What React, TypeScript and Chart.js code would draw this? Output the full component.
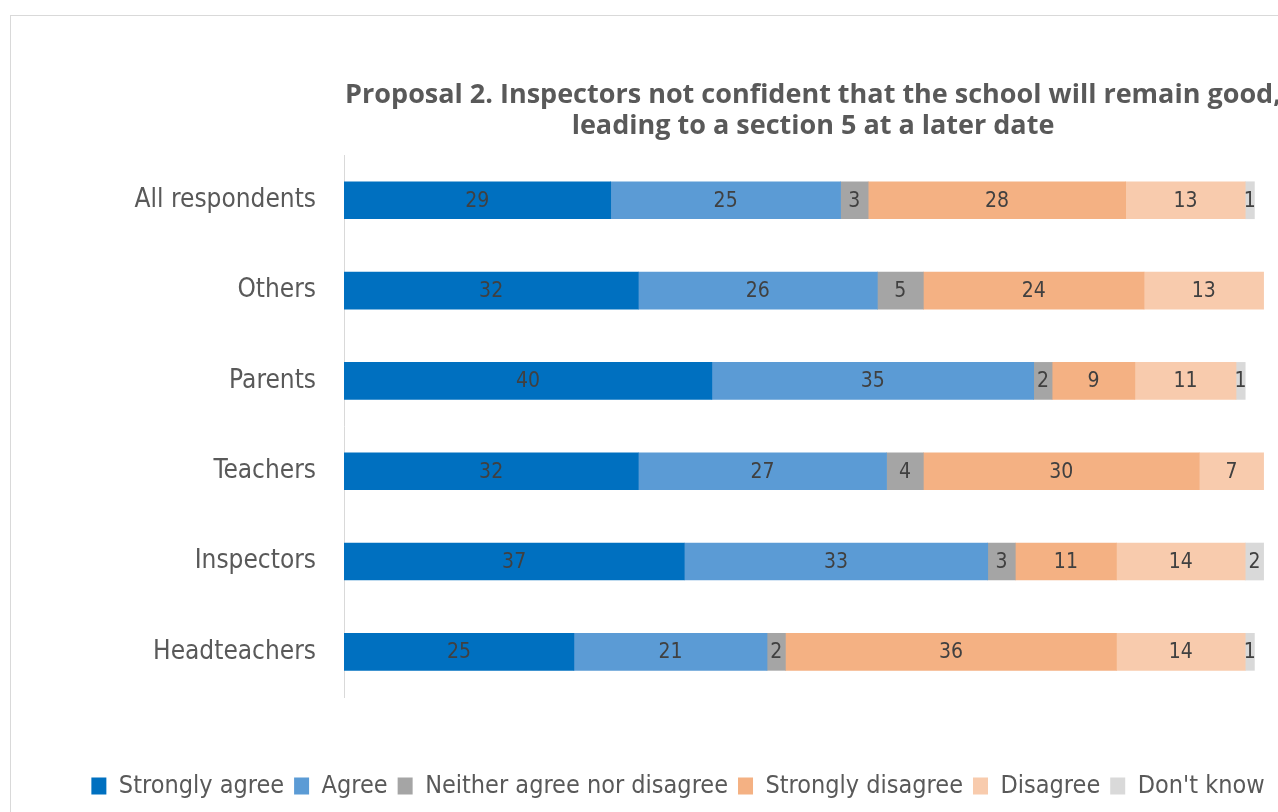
import React, { useEffect, useRef } from "react";
import { Chart, registerables } from "chart.js";

Chart.register(...registerables);

const categories = ["All respondents", "Others", "Parents", "Teachers", "Inspectors", "Headteachers"];
const stronglyAgree = [29, 32, 40, 32, 37, 25];
const agree = [25, 26, 35, 27, 33, 21];
const neither = [3, 5, 2, 4, 3, 2];
const stronglyDisagree = [28, 24, 9, 30, 11, 36];
const disagree = [13, 13, 11, 7, 14, 14];
const dontKnow = [1, null, 1, null, 2, 1];

const seriesNames = ["Strongly agree", "Agree", "Neither agree nor disagree", "Strongly disagree", "Disagree", "Don't know"];
const seriesColors = ["#0070C0", "#5B9BD5", "#A5A5A5", "#F4B183", "#F8CBAD", "#D9D9D9"];
const titleLines = [
  "Proposal 2. Inspectors not confident that the school will remain good,",
  "leading to a section 5 at a later date",
];

const FONT = "'DejaVu Sans Condensed', 'DejaVu Sans', sans-serif";

const barLabels = {
  id: "barLabels",
  afterDatasetsDraw(chart: any) {
    const ctx = chart.ctx;
    ctx.save();
    ctx.font = `21px ${FONT}`;
    ctx.fillStyle = "#404040";
    ctx.textAlign = "center";
    ctx.textBaseline = "middle";
    chart.data.datasets.forEach((ds: any, i: number) => {
      const meta = chart.getDatasetMeta(i);
      meta.data.forEach((bar: any, j: number) => {
        const v = ds.data[j];
        if (v == null || v === 0) return;
        const p = bar.getProps(["x", "base", "y"], true);
        ctx.fillText(String(v), (p.x + p.base) / 2, p.y + 1);
      });
    });
    ctx.restore();
  },
};

export default function App() {
  const ref = useRef<HTMLCanvasElement | null>(null);

  useEffect(() => {
    if (!ref.current) return;
    const seriesData = [stronglyAgree, agree, neither, stronglyDisagree, disagree, dontKnow];
    const chart = new Chart(ref.current, {
      type: "bar",
      data: {
        labels: categories,
        datasets: seriesNames.map((name, i) => ({
          label: name,
          data: seriesData[i] as any,
          backgroundColor: seriesColors[i],
          borderWidth: 0,
          barThickness: 37,
        })),
      },
      options: {
        indexAxis: "y",
        responsive: false,
        animation: false,
        devicePixelRatio: 1,
        layout: { padding: { left: 63, right: 129, top: 0, bottom: 3.5 } },
        scales: {
          x: {
            stacked: true,
            min: 0,
            max: 102,
            grid: { display: false, drawTicks: false },
            border: { display: false },
            ticks: { display: false },
            afterFit: (s: any) => {
              s.height = 66.5;
            },
          },
          y: {
            stacked: true,
            grid: { display: false, drawTicks: false },
            border: { display: true, color: "#d9d9d9", width: 1 },
            ticks: { color: "#595959", font: { size: 26, family: FONT }, padding: 28 },
            afterFit: (s: any) => {
              s.width = 270;
            },
          },
        },
        plugins: {
          title: {
            display: true,
            text: titleLines,
            fullSize: false,
            color: "#595959",
            font: { size: 27, weight: "bold", family: "'Open Sans', sans-serif", lineHeight: 1.15 },
            padding: { top: 63.5, bottom: 13.5 },
          },
          legend: {
            position: "bottom",
            labels: {
              color: "#595959",
              font: { size: 25, family: FONT },
              boxWidth: 15,
              boxHeight: 17,
              padding: 10,
            },
          },
          tooltip: { enabled: false },
        },
      },
      plugins: [barLabels],
    });
    return () => chart.destroy();
  }, []);

  return (
    <div style={{ position: "fixed", left: 0, top: 0, width: 1278, height: 812, overflow: "hidden", background: "#fff" }}>
      <div
        style={{
          position: "absolute",
          left: 10,
          top: 15,
          width: 1500,
          height: 900,
          border: "1px solid #d9d9d9",
          boxSizing: "border-box",
        }}
      >
        <canvas ref={ref} width={1400} height={796} style={{ display: "block", width: 1400, height: 796 }} />
      </div>
    </div>
  );
}
